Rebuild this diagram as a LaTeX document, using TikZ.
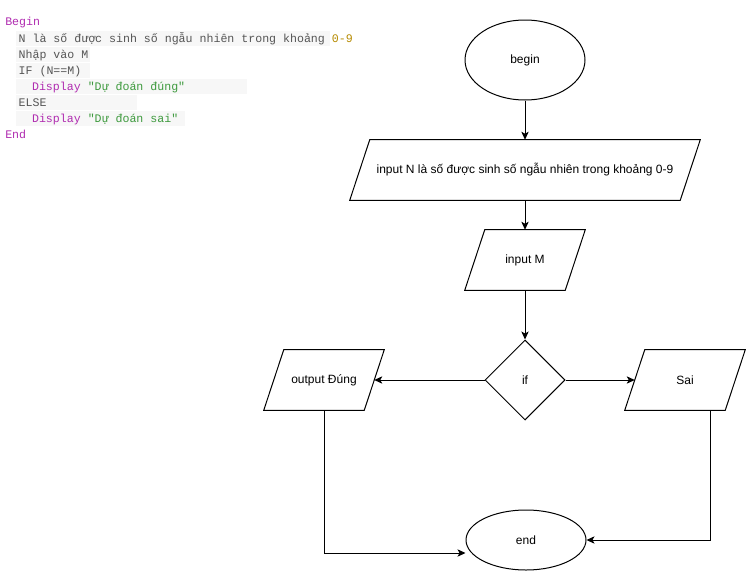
\documentclass[tikz,border=0pt]{standalone}
\usepackage{fontspec}
\setmainfont{Liberation Sans}
\newfontfamily\codefont{Liberation Mono}
\usetikzlibrary{shapes.geometric,arrows.meta}
\definecolor{kw}{HTML}{B02CB0}
\definecolor{str}{HTML}{3E9A3E}
\definecolor{num}{HTML}{B58A00}
\definecolor{txt}{HTML}{555555}
\definecolor{hl}{HTML}{F7F7F7}
\tikzset{
  code/.style={anchor=base west, inner sep=0, font=\codefont\fontsize{8.7}{10}\selectfont, text=txt},
  flow/.style={font=\fontsize{9}{11}\selectfont, inner sep=0},
  term/.style={flow, ellipse, draw, line width=0.75pt, minimum width=90pt},
  io/.style={flow, minimum height=45pt},
  para/.style={line width=0.75pt, line join=miter},
  dec/.style={flow, diamond, draw, line width=0.75pt, minimum width=60pt, minimum height=60pt},
  arr/.style={line width=0.75pt, -{Stealth[length=6pt,width=5.5pt,inset=1.5pt]}}
}
\newcommand{\paradraw}[1]{\draw[para] ([xshift=7.5pt]#1.north west) -- ([xshift=7.5pt]#1.north east) -- ([xshift=-7.5pt]#1.south east) -- ([xshift=-7.5pt]#1.south west) -- cycle;}
\begin{document}
\begin{tikzpicture}[x=0.75pt, y=-0.75pt]
\useasboundingbox (0,0) rectangle (746,571);
% code highlights
\fill[hl] (16,31) rectangle (330,46);
\fill[hl] (16,47) rectangle (90,62);
\fill[hl] (16,63) rectangle (90,78);
\fill[hl] (16,79) rectangle (247,94);
\fill[hl] (16,95) rectangle (137,110);
\fill[hl] (16,111) rectangle (185,126);
% code text
\node[code] (c1) at (5,25) {\textcolor{kw}{Begin}};
\node[code] (c2) at (18.4,42) {N là số được sinh số ngẫu nhiên trong khoảng \textcolor{num}{0-9}};
\node[code] (c3) at (18.4,58) {Nhập vào M};
\node[code] (c4) at (18.4,74) {IF (N==M)};
\node[code] (c5) at (31.8,90) {\textcolor{kw}{Display} \textcolor{str}{"Dự đoán đúng"}};
\node[code] (c6) at (18.4,106) {ELSE};
\node[code] (c7) at (31.8,122) {\textcolor{kw}{Display} \textcolor{str}{"Dự đoán sai"}};
\node[code] (c8) at (5,138) {\textcolor{kw}{End}};
% flowchart
\node[term, minimum height=60pt] (begin) at (525,60) {begin};
\node[io, minimum width=247.5pt] (inN) at (525,170) {input N là số được sinh số ngẫu nhiên trong khoảng 0-9};
\paradraw{inN}
\node[io, minimum width=75pt] (inM) at (525,260) {input M};
\paradraw{inM}
\node[dec] (if) at (525,380) {if};
\node[io, minimum width=75pt] (outd) at (324,380) {output Đúng};
\paradraw{outd}
\node[io, minimum width=75pt] (sai) at (685,380) {Sai};
\paradraw{sai}
\node[term, minimum height=45pt] (end) at (526,540) {end};
% connectors
\draw[arr] (begin) -- (inN);
\draw[arr] (inN) -- (inM);
\draw[arr] (inM) -- (if);
\draw[arr] (if) -- (outd);
\draw[arr] (if) -- (sai);
\draw[arr] (outd.south) |- ([yshift=-9.75pt]end.west);
\draw[arr] ([xshift=18.75pt]sai.south) |- (end.east);
\end{tikzpicture}
\end{document}
